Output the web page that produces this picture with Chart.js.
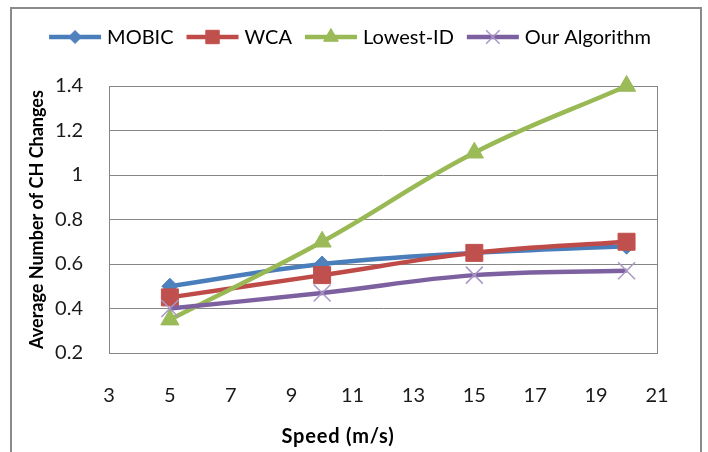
<!DOCTYPE html>
<html>
<head>
<meta charset="utf-8">
<title>Average Number of CH Changes vs Speed</title>
<script src="https://cdn.jsdelivr.net/npm/chart.js@4/dist/chart.umd.min.js"></script>
<style>
  html, body { margin: 0; padding: 0; background: #ffffff; }
  #wrap { width: 708px; height: 452px; }
</style>
</head>
<body>
<div id="wrap"><canvas id="chart" width="708" height="452"></canvas></div>
<script>
// Speeds (m/s) and the average number of cluster-head changes per algorithm
const speeds = [5, 10, 15, 20];
const mobic = [0.50, 0.60, 0.65, 0.68];
const wca = [0.45, 0.55, 0.65, 0.70];
const lowestId = [0.35, 0.70, 1.10, 1.40];
const ourAlgorithm = [0.40, 0.47, 0.55, 0.57];

const seriesNames = ['MOBIC', 'WCA', 'Lowest-ID', 'Our Algorithm'];
const xTicks = [3, 5, 7, 9, 11, 13, 15, 17, 19, 21];
const yTicks = [0.2, 0.4, 0.6, 0.8, 1, 1.2, 1.4];
const xTitle = 'Speed (m/s)';
const yTitle = 'Average Number of CH Changes';

const FONT = 'Lato, "Open Sans", "Liberation Sans", sans-serif';
const GRID = '#868686';

const styles = [
  { line: '#4A7EBB', fill: '#4F81BD', edge: '#4F81BD', shape: 'rectRot', r: 8, lr: 6.5, bw: 1 },
  { line: '#BE4B48', fill: '#C0504D', edge: '#C0504D', shape: 'rect', r: 12, lr: 9.5, bw: 1 },
  { line: '#98B954', fill: '#9BBB59', edge: '#9BBB59', shape: 'triangle', r: 10.5, lr: 8.5, bw: 1 },
  { line: '#7D60A0', fill: 'rgba(0,0,0,0)', edge: '#A996C6', shape: 'crossRot', r: 12, lr: 9.5, bw: 1.5 }
];

const values = [mobic, wca, lowestId, ourAlgorithm];

const datasets = values.map((vals, i) => ({
  label: seriesNames[i],
  data: speeds.map((s, k) => ({ x: s, y: vals[k] })),
  borderColor: styles[i].line,
  borderWidth: 4.5,
  tension: 0.4,
  pointStyle: styles[i].shape,
  pointRadius: styles[i].r,
  pointHoverRadius: styles[i].r,
  pointBackgroundColor: styles[i].fill,
  pointBorderColor: styles[i].edge,
  pointBorderWidth: styles[i].bw,
  order: values.length - i,
  clip: false
}));

// White page, outer chart frame and plot-area border
const framePlugin = {
  id: 'frame',
  beforeDraw(chart) {
    const ctx = chart.ctx;
    ctx.save();
    ctx.fillStyle = '#ffffff';
    ctx.fillRect(0, 0, chart.width, chart.height);
    ctx.strokeStyle = '#8a8a8a';
    ctx.lineWidth = 2;
    ctx.strokeRect(11, 8, 690, 470);
    ctx.restore();
  },
  beforeDatasetsDraw(chart) {
    const a = chart.chartArea;
    const ctx = chart.ctx;
    ctx.save();
    ctx.strokeStyle = GRID;
    ctx.lineWidth = 1;
    ctx.strokeRect(Math.round(a.left) + 0.5, Math.round(a.top) + 0.5,
                   Math.round(a.right - a.left), Math.round(a.bottom - a.top));
    ctx.restore();
  }
};

// Horizontal axis title, centred under the whole chart body
const xTitlePlugin = {
  id: 'xTitle',
  afterDraw(chart) {
    const ctx = chart.ctx;
    ctx.save();
    ctx.font = 'bold 20px ' + FONT;
    if ('letterSpacing' in ctx) ctx.letterSpacing = '0.8px';
    ctx.fillStyle = '#000000';
    ctx.textAlign = 'center';
    ctx.textBaseline = 'middle';
    ctx.fillText(xTitle, 338, 437);
    ctx.restore();
  }
};

// Legend row: line segment with marker, then the series name
const legendPlugin = {
  id: 'lineLegend',
  afterDraw(chart) {
    const ctx = chart.ctx;
    const y = 37;
    const seg = 52, gapText = 6, gapItem = 13;
    ctx.save();
    ctx.font = '20px ' + FONT;
    const widths = seriesNames.map(n => ctx.measureText(n).width);
    const total = widths.reduce((s, w) => s + seg + gapText + w, 0) + gapItem * (seriesNames.length - 1);
    let x = 350 - total / 2;
    seriesNames.forEach((name, i) => {
      const st = styles[i];
      ctx.strokeStyle = st.line;
      ctx.lineWidth = 4.5;
      ctx.lineCap = 'butt';
      ctx.beginPath();
      ctx.moveTo(x, y);
      ctx.lineTo(x + seg, y);
      ctx.stroke();
      ctx.fillStyle = st.fill;
      ctx.strokeStyle = st.edge;
      ctx.lineWidth = st.bw;
      Chart.helpers.drawPoint(ctx, { pointStyle: st.shape, radius: st.lr, rotation: 0, borderWidth: st.bw }, x + seg / 2, y);
      ctx.fillStyle = '#000000';
      ctx.textBaseline = 'middle';
      ctx.textAlign = 'left';
      ctx.fillText(name, x + seg + gapText, y + 1);
      x += seg + gapText + widths[i] + gapItem;
    });
    ctx.restore();
  }
};

new Chart(document.getElementById('chart'), {
  type: 'line',
  data: { datasets },
  plugins: [framePlugin, xTitlePlugin, legendPlugin],
  options: {
    responsive: false,
    animation: false,
    events: [],
    layout: { padding: { left: 0, top: 86, right: 51, bottom: 0 } },
    plugins: { legend: { display: false }, tooltip: { enabled: false } },
    scales: {
      x: {
        type: 'linear',
        min: 3,
        max: 21,
        afterBuildTicks(scale) { scale.ticks = xTicks.map(v => ({ value: v })); },
        afterFit(scale) { scale.height = 99; },
        grid: { display: false, drawTicks: false },
        border: { display: true, color: GRID, width: 1 },
        ticks: {
          padding: 31,
          color: '#1a1a1a',
          font: { family: FONT, size: 20 },
          maxRotation: 0,
          autoSkip: false,
          callback: v => String(v)
        }
      },
      y: {
        min: 0.2,
        max: 1.4,
        afterBuildTicks(scale) { scale.ticks = yTicks.map(v => ({ value: v })); },
        afterFit(scale) { scale.width = 109; },
        grid: { color: GRID, lineWidth: 1, drawTicks: false },
        border: { display: true, color: GRID, width: 1 },
        ticks: {
          padding: 26,
          color: '#1a1a1a',
          font: { family: FONT, size: 20 },
          autoSkip: false,
          callback: v => String(Math.round(v * 10) / 10)
        },
        title: {
          display: true,
          text: yTitle,
          color: '#000000',
          font: { family: FONT, size: 18, weight: 'bold' },
          padding: { top: 26, bottom: 0 }
        }
      }
    }
  }
});
</script>
</body>
</html>
